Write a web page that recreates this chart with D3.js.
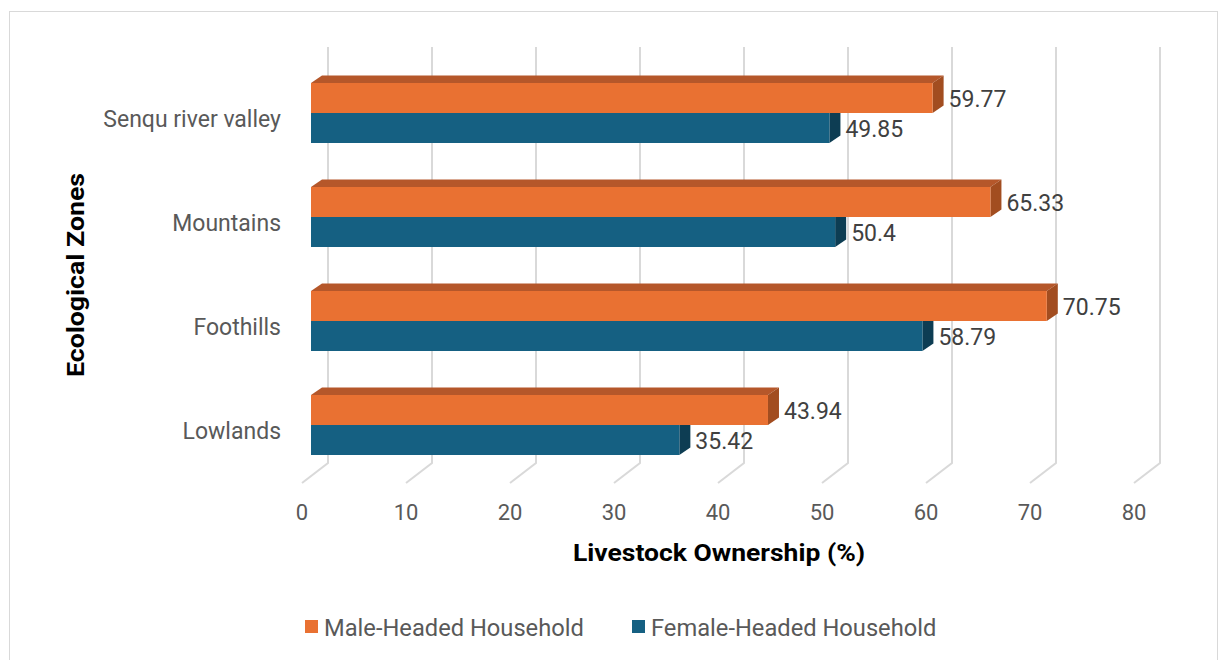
<!DOCTYPE html>
<html>
<head>
<meta charset="utf-8">
<script src="https://cdn.jsdelivr.net/npm/d3@7"></script>
<style>
  html, body { margin: 0; padding: 0; background: #fff; }
  svg { display: block; font-family: Roboto, "Open Sans", sans-serif; }
</style>
</head>
<body>
<div id="chart"></div>
<script>
// Data
const zones = ["Senqu river valley", "Mountains", "Foothills", "Lowlands"];
const maleValues = [59.77, 65.33, 70.75, 43.94];
const femaleValues = [49.85, 50.4, 58.79, 35.42];
const seriesNames = ["Male-Headed Household", "Female-Headed Household"];
const xTicks = [0, 10, 20, 30, 40, 50, 60, 70, 80];

const WIDTH = 1219, HEIGHT = 660;

// colours for the front / top / side faces
const COLORS = {
  male: { front: "#E97132", top: "#B5572A", side: "#A24D20" },
  female: { front: "#156082", top: "#104A64", side: "#0D3D53" }
};

const svg = d3.select("#chart").append("svg")
  .attr("width", WIDTH)
  .attr("height", HEIGHT);

// chart border
svg.append("rect")
  .attr("x", 9.5).attr("y", 11.5)
  .attr("width", 1208).attr("height", 700)
  .attr("fill", "none")
  .attr("stroke", "#D9D9D9")
  .attr("stroke-width", 1);

// Front plane scales (3D floor front edge)
const x = d3.scaleLinear().domain([0, 80]).range([302, 1134]);
const y = d3.scaleBand().domain(zones).range([67, 483]);

// depth of the 3D box and of the bars
const DEPTH = { dx: 26, dy: -20 };
const BAR_OFF = { dx: 9, dy: -6 };   // bar front face offset from front plane
const BAR_DEPTH = { dx: 11, dy: -7.5 };
const BAR_H = 30;

// Gridlines: vertical on back wall, diagonal on floor
const grid = svg.append("g").attr("class", "grid");
grid.selectAll("path")
  .data(xTicks)
  .enter()
  .append("path")
    .attr("fill", "none")
    .attr("stroke", "#D9D9D9")
    .attr("stroke-width", 2)
    .attr("d", (d) => {
      const xb = x(d) + DEPTH.dx;
      const yTop = y.range()[0] + DEPTH.dy;
      const yBot = y.range()[1] + DEPTH.dy;
      return `M${xb},${yTop} L${xb},${yBot} L${x(d)},${y.range()[1]}`;
    });

// x tick labels
svg.append("g")
  .selectAll("text")
  .data(xTicks)
  .enter()
  .append("text")
    .attr("x", (d) => x(d))
    .attr("y", 512)
    .attr("text-anchor", "middle")
    .attr("dominant-baseline", "central")
    .attr("font-size", 22)
    .attr("fill", "#595959")
    .text((d) => d);

// category labels
svg.append("g")
  .selectAll("text")
  .data(zones)
  .enter()
  .append("text")
    .attr("x", 281)
    .attr("y", (d) => y(d) + y.bandwidth() / 2)
    .attr("text-anchor", "end")
    .attr("dominant-baseline", "central")
    .attr("font-size", 23)
    .attr("fill", "#595959")
    .text((d) => d);

// Build the bar rows (female first so the male bar sits on top of its side face)
const rows = [];
zones.forEach((z, i) => {
  const cy = y(z) + y.bandwidth() / 2 + BAR_OFF.dy;
  rows.push({ zone: z, value: femaleValues[i], top: cy, key: "female" });
  rows.push({ zone: z, value: maleValues[i], top: cy - BAR_H, key: "male" });
});

const bars = svg.append("g").attr("class", "bars")
  .selectAll("g")
  .data(rows)
  .enter()
  .append("g");

const x0 = (d) => x(0) + BAR_OFF.dx;
const xe = (d) => x(d.value) + BAR_OFF.dx;

// top face
bars.append("path")
  .attr("fill", (d) => COLORS[d.key].top)
  .attr("d", (d) => {
    const t = d.top;
    return `M${x0(d)},${t} L${x0(d) + BAR_DEPTH.dx},${t + BAR_DEPTH.dy} L${xe(d) + BAR_DEPTH.dx},${t + BAR_DEPTH.dy} L${xe(d)},${t} Z`;
  });

// side face
bars.append("path")
  .attr("fill", (d) => COLORS[d.key].side)
  .attr("d", (d) => {
    const t = d.top, b = d.top + BAR_H;
    return `M${xe(d)},${t} L${xe(d) + BAR_DEPTH.dx},${t + BAR_DEPTH.dy} L${xe(d) + BAR_DEPTH.dx},${b + BAR_DEPTH.dy} L${xe(d)},${b} Z`;
  });

// front face
bars.append("rect")
  .attr("x", (d) => x0(d))
  .attr("y", (d) => d.top)
  .attr("width", (d) => xe(d) - x0(d))
  .attr("height", BAR_H)
  .attr("fill", (d) => COLORS[d.key].front);

// data labels
bars.append("text")
  .attr("x", (d) => xe(d) + BAR_DEPTH.dx + 5)
  .attr("y", (d) => d.top + BAR_H / 2 + 1)
  .attr("dominant-baseline", "central")
  .attr("font-size", 23)
  .attr("fill", "#404040")
  .text((d) => d.value);

// axis titles
svg.append("text")
  .attr("x", 719)
  .attr("y", 553)
  .attr("text-anchor", "middle")
  .attr("dominant-baseline", "central")
  .attr("font-size", 23)
  .attr("font-weight", "bold")
  .attr("textLength", 292)
  .attr("lengthAdjust", "spacingAndGlyphs")
  .attr("fill", "#000")
  .text("Livestock Ownership (%)");

svg.append("text")
  .attr("transform", "translate(76,275) rotate(-90)")
  .attr("text-anchor", "middle")
  .attr("dominant-baseline", "central")
  .attr("font-size", 23)
  .attr("font-weight", "bold")
  .attr("textLength", 204)
  .attr("lengthAdjust", "spacingAndGlyphs")
  .attr("fill", "#000")
  .text("Ecological Zones");

// legend
const legendX = [305, 632];
const legend = svg.append("g").attr("class", "legend")
  .selectAll("g")
  .data(seriesNames)
  .enter()
  .append("g")
    .attr("transform", (d, i) => `translate(${legendX[i]},627)`);

legend.append("rect")
  .attr("x", 0).attr("y", -7)
  .attr("width", 13).attr("height", 13)
  .attr("fill", (d, i) => i === 0 ? COLORS.male.front : COLORS.female.front);

legend.append("text")
  .attr("x", 19)
  .attr("y", 1)
  .attr("dominant-baseline", "central")
  .attr("font-size", 23.7)
  .attr("fill", "#595959")
  .text((d) => d);
</script>
</body>
</html>
